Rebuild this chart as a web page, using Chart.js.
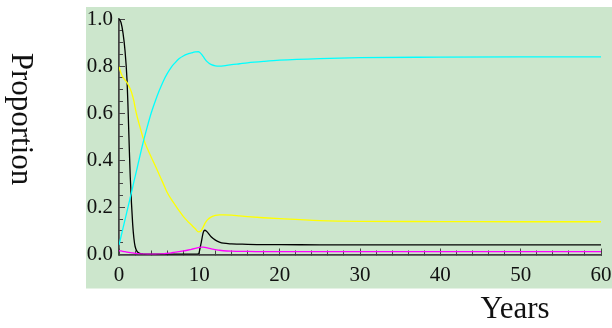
<!DOCTYPE html>
<html>
<head>
<meta charset="utf-8">
<script src="https://cdn.jsdelivr.net/npm/chart.js@4"></script>
<style>
  body { margin: 0; background: #fff; }
  canvas { display: block; }
</style>
</head>
<body>
<canvas id="grafica" width="612" height="328"></canvas>
<script>
// years (x) and the four proportion series
const anios = [0, 0.25, 0.5, 0.75, 1, 1.1, 1.2, 1.3, 1.4, 1.55, 1.7, 1.85, 2, 2.25, 2.5, 3,
  3.5, 4, 4.5, 5, 5.5, 6, 6.5, 7, 7.5, 8, 8.5, 9, 9.5, 9.9, 10.2, 10.5, 10.7, 11, 11.5, 12,
  12.5, 13, 14, 15, 16, 18, 20, 25, 30, 40, 50, 60];

const negro = [1.0, 0.985, 0.94, 0.865, 0.74, 0.65, 0.54, 0.43, 0.33, 0.22, 0.13, 0.07, 0.035, 0.013, 0.006, 0.002,
  0.001, 0.001, 0.001, 0.001, 0.001, 0.001, 0.001, 0.001, 0.001, 0.001, 0.001, 0.001, 0.001, 0.003, 0.045, 0.095, 0.103, 0.095, 0.074, 0.061,
  0.053, 0.048, 0.045, 0.044, 0.043, 0.042, 0.042, 0.041, 0.041, 0.041, 0.041, 0.041];

const cian = [0.04, 0.076, 0.112, 0.148, 0.184, 0.198, 0.213, 0.227, 0.242, 0.263, 0.285, 0.308, 0.33, 0.366, 0.403, 0.475,
  0.54, 0.6, 0.65, 0.695, 0.735, 0.768, 0.795, 0.815, 0.832, 0.843, 0.851, 0.856, 0.86, 0.861, 0.853, 0.84, 0.83, 0.818, 0.806, 0.801,
  0.8, 0.801, 0.806, 0.81, 0.814, 0.82, 0.825, 0.832, 0.836, 0.838, 0.839, 0.839];

const amarillo = [0.797, 0.77, 0.752, 0.741, 0.73, 0.724, 0.717, 0.71, 0.703, 0.69, 0.672, 0.652, 0.625, 0.587, 0.555, 0.496,
  0.452, 0.414, 0.378, 0.34, 0.302, 0.263, 0.235, 0.21, 0.185, 0.162, 0.143, 0.126, 0.109, 0.096, 0.1, 0.118, 0.132, 0.147, 0.16, 0.166,
  0.168, 0.168, 0.167, 0.164, 0.161, 0.156, 0.152, 0.144, 0.141, 0.14, 0.139, 0.139];

const magenta = [0.016, 0.015, 0.013, 0.012, 0.01, 0.0095, 0.009, 0.0085, 0.008, 0.007, 0.0065, 0.006, 0.005, 0.004, 0.003, 0.002,
  0.001, 0.001, 0.001, 0.002, 0.003, 0.005, 0.007, 0.01, 0.012, 0.015, 0.018, 0.022, 0.026, 0.029, 0.031, 0.031, 0.03, 0.028, 0.024, 0.021,
  0.018, 0.016, 0.014, 0.013, 0.013, 0.012, 0.012, 0.012, 0.012, 0.012, 0.012, 0.012];

const ticksX = [0, 10, 20, 30, 40, 50, 60];
const ticksY = [0, 0.2, 0.4, 0.6, 0.8, 1.0];

const fuente = '"Liberation Serif", "Times New Roman", serif';

function serie(valores, color) {
  return {
    data: anios.map((t, i) => ({ x: t, y: valores[i] })),
    borderColor: color,
    borderWidth: 1.3,
    pointRadius: 0,
    cubicInterpolationMode: 'monotone',
    fill: false
  };
}

// fixed axis size, no extra label padding pushing the plot inwards
function ajustar(s, ancho, alto) {
  if (ancho !== null) s.width = ancho;
  if (alto !== null) s.height = alto;
  s.paddingTop = 0;
  s.paddingBottom = 0;
  s.paddingLeft = 0;
  s.paddingRight = 0;
}

// green panel + axis titles
const fondo = {
  id: 'fondo',
  beforeDraw(chart) {
    const a = chart.chartArea;
    const ctx = chart.ctx;
    ctx.save();
    ctx.fillStyle = '#cce6cc';
    ctx.fillRect(a.left - 33, a.top - 12, chart.width - (a.left - 33), a.bottom - a.top + 46);
    ctx.restore();
  },
  afterDraw(chart) {
    const ctx = chart.ctx;
    ctx.save();
    ctx.fillStyle = '#111';
    ctx.font = '31px ' + fuente;
    ctx.textAlign = 'center';
    ctx.textBaseline = 'alphabetic';
    ctx.fillText('Years', 515, 318);
    ctx.translate(12, 119);
    ctx.rotate(Math.PI / 2);
    ctx.fillText('Proportion', 0, 0);
    ctx.restore();
  }
};

const ejeComun = {
  type: 'linear',
  grid: { display: true, drawOnChartArea: false, drawTicks: true, color: '#444', tickWidth: 1 },
  border: { display: true, color: '#444', width: 1.5 }
};

new Chart(document.getElementById('grafica'), {
  type: 'line',
  data: {
    datasets: [
      serie(cian, '#00ffff'),
      serie(amarillo, '#ffff00'),
      serie(magenta, '#ff00ff'),
      serie(negro, '#000000')
    ]
  },
  options: {
    responsive: false,
    animation: false,
    layout: { padding: { left: 0, top: 19, right: 11, bottom: 0 } },
    plugins: { legend: { display: false }, tooltip: { enabled: false } },
    scales: {
      x: {
        ...ejeComun,
        weight: 1,
        position: 'bottom',
        min: 0, max: 60,
        grid: { ...ejeComun.grid, tickLength: -6 },
        afterBuildTicks: s => { s.ticks = ticksX.map(v => ({ value: v })); },
        ticks: { autoSkip: false, maxRotation: 0, padding: 14, color: '#111', font: { family: fuente, size: 21 } },
        afterFit: s => ajustar(s, null, 73.5)
      },
      y: {
        ...ejeComun,
        weight: 1,
        position: 'left',
        min: 0, max: 1,
        grid: { ...ejeComun.grid, tickLength: -6 },
        afterBuildTicks: s => { s.ticks = ticksY.map(v => ({ value: v })); },
        ticks: { autoSkip: false, padding: 12, color: '#111', font: { family: fuente, size: 21 },
          callback: v => v.toFixed(1) },
        afterFit: s => ajustar(s, 119, null)
      },
      xMenor: {
        ...ejeComun,
        weight: 0,
        position: 'bottom',
        min: 0, max: 60,
        grid: { ...ejeComun.grid, tickLength: -4 },
        ticks: { display: false, stepSize: 2, autoSkip: false },
        afterFit: s => ajustar(s, null, 0)
      },
      yMenor: {
        ...ejeComun,
        weight: 0,
        position: 'left',
        min: 0, max: 1,
        grid: { ...ejeComun.grid, tickLength: -4 },
        ticks: { display: false, stepSize: 0.05, autoSkip: false },
        afterFit: s => ajustar(s, 0, null)
      }
    }
  },
  plugins: [fondo]
});
</script>
</body>
</html>
